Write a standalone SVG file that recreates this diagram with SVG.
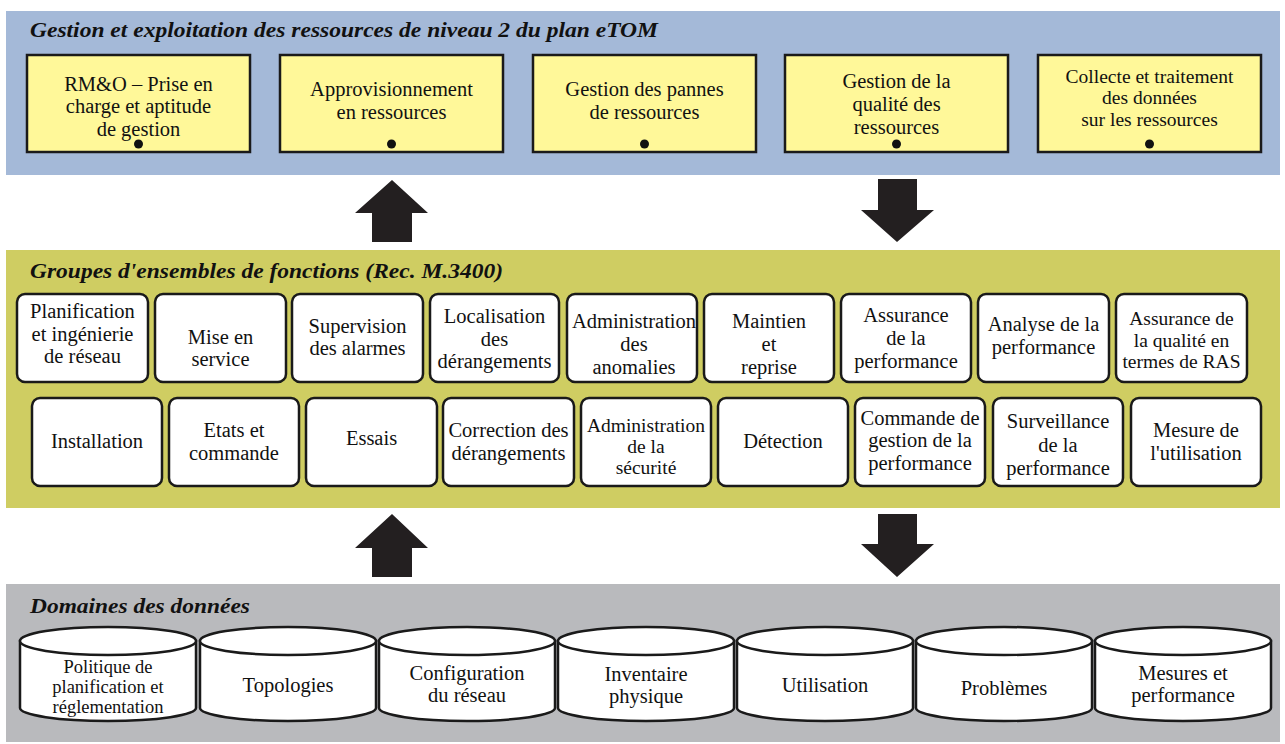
<svg xmlns="http://www.w3.org/2000/svg" width="1285" height="744" viewBox="0 0 1285 744">
<style>
.band-blue{fill:#a4b9d8}
.band-green{fill:#cfcd62}
.band-gray{fill:#b9babd}
.title{font-family:"Liberation Serif",serif;font-weight:bold;font-style:italic;font-size:21px;fill:#111}
.ybox{fill:#fff899;stroke:#1a1a1a;stroke-width:2.5}
.wbox{fill:#fff;stroke:#1a1a1a;stroke-width:2.5}
.cyl{fill:#fff;stroke:#1a1a1a;stroke-width:2.5}
.t{font-family:"Liberation Serif",serif;font-size:20.5px;fill:#111;text-anchor:middle}
.s{font-size:19.5px}
.xs{font-size:18.5px}
.dot{fill:#111}
.arrow{fill:#231f20}
</style>
<rect width="1285" height="744" fill="#fff"/>
<!-- bands -->
<rect class="band-blue" x="6" y="11" width="1274" height="164"/>
<rect class="band-green" x="6" y="250" width="1274" height="258"/>
<rect class="band-gray" x="6" y="584" width="1274" height="158"/>
<text class="title" x="30" y="37" textLength="628" lengthAdjust="spacingAndGlyphs">Gestion et exploitation des ressources de niveau 2 du plan eTOM</text>
<text class="title" x="30" y="278" textLength="473" lengthAdjust="spacingAndGlyphs">Groupes d'ensembles de fonctions (Rec. M.3400)</text>
<text class="title" x="30" y="613" textLength="220" lengthAdjust="spacingAndGlyphs">Domaines des données</text>

<!-- top yellow boxes -->
<g id="etom1"><rect class="ybox" x="27" y="55" width="223" height="97"/><text class="t" x="138.5" y="91">RM&amp;O – Prise en</text><text class="t" x="138.5" y="113">charge et aptitude</text><text class="t" x="138.5" y="136">de gestion</text><circle class="dot" cx="138.5" cy="144" r="4.5"/></g>
<g id="etom2"><rect class="ybox" x="280" y="55" width="223" height="97"/><text class="t" x="391.5" y="96">Approvisionnement</text><text class="t" x="391.5" y="119">en ressources</text><circle class="dot" cx="391.5" cy="144" r="4.5"/></g>
<g id="etom3"><rect class="ybox" x="533" y="55" width="223" height="97"/><text class="t" x="644.5" y="96">Gestion des pannes</text><text class="t" x="644.5" y="119">de ressources</text><circle class="dot" cx="644.5" cy="144" r="4.5"/></g>
<g id="etom4"><rect class="ybox" x="785" y="55" width="223" height="97"/><text class="t" x="896.5" y="88">Gestion de la</text><text class="t" x="896.5" y="111">qualité des</text><text class="t" x="896.5" y="134">ressources</text><circle class="dot" cx="896.5" cy="144" r="4.5"/></g>
<g id="etom5"><rect class="ybox" x="1038" y="55" width="223" height="97"/><text class="t s" x="1149.5" y="83">Collecte et traitement</text><text class="t s" x="1149.5" y="104">des données</text><text class="t s" x="1149.5" y="126">sur les ressources</text><circle class="dot" cx="1149.5" cy="144" r="4.5"/></g>

<!-- row 1 function set groups -->
<g id="f1"><rect class="wbox" x="17" y="294" width="131" height="88" rx="8"/><text class="t" x="82.5" y="318">Planification</text><text class="t" x="82.5" y="341">et ingénierie</text><text class="t" x="82.5" y="363">de réseau</text></g>
<g id="f2"><rect class="wbox" x="155" y="294" width="131" height="88" rx="8"/><text class="t" x="220.5" y="344">Mise en</text><text class="t" x="220.5" y="366">service</text></g>
<g id="f3"><rect class="wbox" x="292" y="294" width="131" height="88" rx="8"/><text class="t" x="357.5" y="333">Supervision</text><text class="t" x="357.5" y="355">des alarmes</text></g>
<g id="f4"><rect class="wbox" x="430" y="294" width="129" height="88" rx="8"/><text class="t" x="494.5" y="323">Localisation</text><text class="t" x="494.5" y="346">des</text><text class="t" x="494.5" y="368">dérangements</text></g>
<g id="f5"><rect class="wbox" x="567" y="294" width="130" height="88" rx="8"/><text class="t" x="634" y="328">Administration</text><text class="t" x="634" y="351">des</text><text class="t" x="634" y="374">anomalies</text></g>
<g id="f6"><rect class="wbox" x="704" y="294" width="130" height="88" rx="8"/><text class="t" x="769" y="328">Maintien</text><text class="t" x="769" y="351">et</text><text class="t" x="769" y="374">reprise</text></g>
<g id="f7"><rect class="wbox" x="841" y="294" width="130" height="88" rx="8"/><text class="t" x="906" y="322">Assurance</text><text class="t" x="906" y="345">de la</text><text class="t" x="906" y="368">performance</text></g>
<g id="f8"><rect class="wbox" x="978" y="294" width="131" height="88" rx="8"/><text class="t" x="1043.5" y="331">Analyse de la</text><text class="t" x="1043.5" y="354">performance</text></g>
<g id="f9"><rect class="wbox" x="1116" y="294" width="131" height="88" rx="8"/><text class="t s" x="1181.5" y="325">Assurance de</text><text class="t s" x="1181.5" y="347">la qualité en</text><text class="t s" x="1181.5" y="368">termes de RAS</text></g>

<!-- row 2 -->
<g id="g1"><rect class="wbox" x="32" y="398" width="130" height="88" rx="8"/><text class="t" x="97" y="448">Installation</text></g>
<g id="g2"><rect class="wbox" x="169" y="398" width="130" height="88" rx="8"/><text class="t" x="234" y="437">Etats et</text><text class="t" x="234" y="460">commande</text></g>
<g id="g3"><rect class="wbox" x="306" y="398" width="131" height="88" rx="8"/><text class="t" x="371.5" y="445">Essais</text></g>
<g id="g4"><rect class="wbox" x="443" y="398" width="131" height="88" rx="8"/><text class="t" x="508.5" y="437">Correction des</text><text class="t" x="508.5" y="460">dérangements</text></g>
<g id="g5"><rect class="wbox" x="581" y="398" width="130" height="88" rx="8"/><text class="t s" x="646" y="432">Administration</text><text class="t s" x="646" y="453">de la</text><text class="t s" x="646" y="474">sécurité</text></g>
<g id="g6"><rect class="wbox" x="718" y="398" width="130" height="88" rx="8"/><text class="t" x="783" y="448">Détection</text></g>
<g id="g7"><rect class="wbox" x="855" y="398" width="130" height="88" rx="8"/><text class="t" x="920" y="425">Commande de</text><text class="t" x="920" y="447">gestion de la</text><text class="t" x="920" y="470">performance</text></g>
<g id="g8"><rect class="wbox" x="993" y="398" width="130" height="88" rx="8"/><text class="t" x="1058" y="428">Surveillance</text><text class="t" x="1058" y="452">de la</text><text class="t" x="1058" y="475">performance</text></g>
<g id="g9"><rect class="wbox" x="1131" y="398" width="130" height="88" rx="8"/><text class="t" x="1196" y="437">Mesure de</text><text class="t" x="1196" y="460">l'utilisation</text></g>

<!-- data domains (cylinders) -->
<g id="d1"><path class="cyl" d="M20 641 L20 708 A88 13 0 0 0 196 708 L196 641 Z"/><ellipse class="cyl" cx="108" cy="641" rx="88" ry="14"/><text class="t xs" x="108" y="673">Politique de</text><text class="t xs" x="108" y="693">planification et</text><text class="t xs" x="108" y="713">réglementation</text></g>
<g id="d2"><path class="cyl" d="M200 641 L200 708 A88 13 0 0 0 376 708 L376 641 Z"/><ellipse class="cyl" cx="288" cy="641" rx="88" ry="14"/><text class="t" x="288" y="692">Topologies</text></g>
<g id="d3"><path class="cyl" d="M379 641 L379 708 A88 13 0 0 0 555 708 L555 641 Z"/><ellipse class="cyl" cx="467" cy="641" rx="88" ry="14"/><text class="t" x="467" y="680">Configuration</text><text class="t" x="467" y="702">du réseau</text></g>
<g id="d4"><path class="cyl" d="M558 641 L558 708 A88 13 0 0 0 734 708 L734 641 Z"/><ellipse class="cyl" cx="646" cy="641" rx="88" ry="14"/><text class="t" x="646" y="681">Inventaire</text><text class="t" x="646" y="703">physique</text></g>
<g id="d5"><path class="cyl" d="M737 641 L737 708 A88 13 0 0 0 913 708 L913 641 Z"/><ellipse class="cyl" cx="825" cy="641" rx="88" ry="14"/><text class="t" x="825" y="692">Utilisation</text></g>
<g id="d6"><path class="cyl" d="M916 641 L916 708 A88 13 0 0 0 1092 708 L1092 641 Z"/><ellipse class="cyl" cx="1004" cy="641" rx="88" ry="14"/><text class="t" x="1004" y="695">Problèmes</text></g>
<g id="d7"><path class="cyl" d="M1095 641 L1095 708 A88 13 0 0 0 1271 708 L1271 641 Z"/><ellipse class="cyl" cx="1183" cy="641" rx="88" ry="14"/><text class="t" x="1183" y="680">Mesures et</text><text class="t" x="1183" y="702">performance</text></g>

<!-- connectors -->
<g id="connectors">
<path class="arrow" d="M392 180 L428 213 L412 213 L412 242 L372 242 L372 213 L355 213 Z"/>
<path class="arrow" d="M878 179 L917 179 L917 210 L934 210 L897 242 L861 210 L878 210 Z"/>
<path class="arrow" d="M392 514 L428 548 L412 548 L412 577 L372 577 L372 548 L355 548 Z"/>
<path class="arrow" d="M878 514 L917 514 L917 544 L934 544 L897 577 L861 544 L878 544 Z"/>
</g>
</svg>
